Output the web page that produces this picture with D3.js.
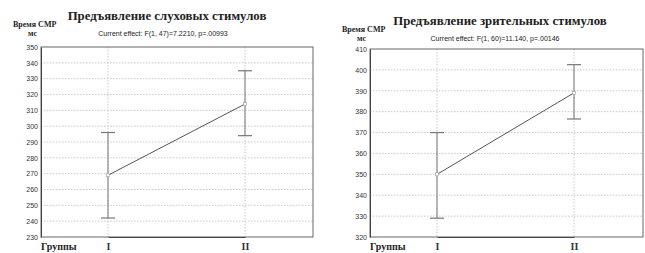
<!DOCTYPE html>
<html>
<head>
<meta charset="utf-8">
<script src="https://cdn.jsdelivr.net/npm/d3@7"></script>
<style>
  body { margin: 0; background: #fff; }
  svg { display: block; }
  .grid line { stroke: #c8c8c8; stroke-dasharray: 1.5,1.5; }
  .tick text { font-family: Arial, "Liberation Sans", sans-serif; font-size: 7px; fill: #333; }
</style>
</head>
<body>
<svg id="chart" width="645" height="253"></svg>
<script>
// data
var groups = ["I", "II"];

var audTitle = "Предъявление слуховых стимулов";
var audEffect = "Current effect: F(1, 47)=7.2210, p=.00993";
var audMean = [269, 314];
var audLow = [242, 294];
var audHigh = [296, 335];
var audTicks = [230, 240, 250, 260, 270, 280, 290, 300, 310, 320, 330, 340, 350];

var visTitle = "Предъявление зрительных стимулов";
var visEffect = "Current effect: F(1, 60)=11.140, p=.00146";
var visMean = [350, 389];
var visLow = [329, 376.5];
var visHigh = [370, 402.5];
var visTicks = [320, 330, 340, 350, 360, 370, 380, 390, 400, 410];

var svg = d3.select("#chart");

function drawPanel(opt) {
  var g = svg.append("g");
  var x = d3.scalePoint().domain(groups).range([opt.x0 + 67, opt.x0 + 204]);
  var y = d3.scaleLinear()
      .domain([opt.ticks[0], opt.ticks[opt.ticks.length - 1]])
      .range([opt.y1, opt.y0]);

  // grid
  var grid = g.append("g").attr("class", "grid");
  grid.selectAll("line.h")
      .data(opt.ticks.slice(1, -1))
    .enter().append("line")
      .attr("x1", opt.x0).attr("x2", opt.x1)
      .attr("y1", function(d) { return y(d); })
      .attr("y2", function(d) { return y(d); });
  grid.selectAll("line.v")
      .data(groups)
    .enter().append("line")
      .attr("x1", function(d) { return x(d); })
      .attr("x2", function(d) { return x(d); })
      .attr("y1", opt.y0).attr("y2", opt.y1);

  // frame
  g.append("rect")
      .attr("x", opt.x0).attr("y", opt.y0)
      .attr("width", opt.x1 - opt.x0).attr("height", opt.y1 - opt.y0)
      .attr("fill", "none").attr("stroke", "#666").attr("stroke-width", 1);

  // y axis
  var yAxis = d3.axisLeft(y).tickValues(opt.ticks).tickSize(0).tickPadding(3);
  var ya = g.append("g").attr("transform", "translate(" + opt.x0 + ",0)").call(yAxis);
  ya.select(".domain").attr("stroke", "#444");

  // x axis labels
  var xAxis = d3.axisBottom(x).tickSize(0).tickPadding(6);
  var xa = g.append("g").attr("transform", "translate(0," + opt.y1 + ")").call(xAxis);
  xa.select(".domain").attr("stroke", "#444");
  xa.selectAll(".tick text")
      .style("font-family", "'Liberation Serif', 'DejaVu Serif', serif")
      .style("font-size", "10px").style("font-weight", "bold").attr("fill", "#222");

  g.append("text")
      .attr("x", opt.x0).attr("y", opt.y1 + 13)
      .style("font-family", "'Liberation Serif', serif").style("font-size", "10px")
      .style("font-weight", "bold").attr("fill", "#222")
      .text("Группы");

  // error bars
  var idx = d3.range(groups.length);
  g.selectAll("line.err")
      .data(idx)
    .enter().append("line")
      .attr("x1", function(i) { return x(groups[i]); })
      .attr("x2", function(i) { return x(groups[i]); })
      .attr("y1", function(i) { return y(opt.low[i]); })
      .attr("y2", function(i) { return y(opt.high[i]); })
      .attr("stroke", "#8a8a8a").attr("stroke-width", 1.2);
  [opt.low, opt.high].forEach(function(arr) {
    g.selectAll(null)
        .data(idx)
      .enter().append("line")
        .attr("x1", function(i) { return x(groups[i]) - 7; })
        .attr("x2", function(i) { return x(groups[i]) + 7; })
        .attr("y1", function(i) { return y(arr[i]); })
        .attr("y2", function(i) { return y(arr[i]); })
        .attr("stroke", "#777").attr("stroke-width", 1.2);
  });

  // mean line
  var line = d3.line()
      .x(function(i) { return x(groups[i]); })
      .y(function(i) { return y(opt.mean[i]); });
  g.append("path")
      .datum(idx)
      .attr("d", line)
      .attr("fill", "none").attr("stroke", "#555").attr("stroke-width", 1);

  g.selectAll("rect.pt")
      .data(idx)
    .enter().append("rect")
      .attr("x", function(i) { return x(groups[i]) - 1.5; })
      .attr("y", function(i) { return y(opt.mean[i]) - 1.5; })
      .attr("width", 3).attr("height", 3)
      .attr("fill", "#fff").attr("stroke", "#999").attr("stroke-width", 0.6);

  // titles
  g.append("text")
      .attr("x", opt.titleX).attr("y", opt.titleY)
      .attr("text-anchor", "middle")
      .style("font-family", "'Liberation Serif', 'DejaVu Serif', serif")
      .style("font-size", "12.8px").style("font-weight", "bold").attr("fill", "#222")
      .text(opt.title);
  g.append("text")
      .attr("x", opt.effectX).attr("y", opt.titleY + 16)
      .attr("text-anchor", "middle")
      .style("font-family", "Arial, 'Liberation Sans', sans-serif")
      .style("font-size", "7px").attr("fill", "#222")
      .text(opt.effect);

  g.append("text")
      .attr("x", opt.x0 - 28).attr("y", opt.titleY + 7)
      .style("font-family", "'Liberation Serif', serif").style("font-size", "8px")
      .style("font-weight", "bold").attr("fill", "#222")
      .text("Время СМР");
  g.append("text")
      .attr("x", opt.x0 - 13).attr("y", opt.titleY + 16)
      .style("font-family", "'Liberation Serif', serif").style("font-size", "8px")
      .style("font-weight", "bold").attr("fill", "#222")
      .text("мс");
}

drawPanel({x0: 41, x1: 313, y0: 47, y1: 237, ticks: audTicks,
           mean: audMean, low: audLow, high: audHigh,
           title: audTitle, effect: audEffect, titleX: 167, effectX: 163, titleY: 20});
drawPanel({x0: 370, x1: 643, y0: 49, y1: 237, ticks: visTicks,
           mean: visMean, low: visLow, high: visHigh,
           title: visTitle, effect: visEffect, titleX: 500, effectX: 495, titleY: 25});
</script>
</body>
</html>
